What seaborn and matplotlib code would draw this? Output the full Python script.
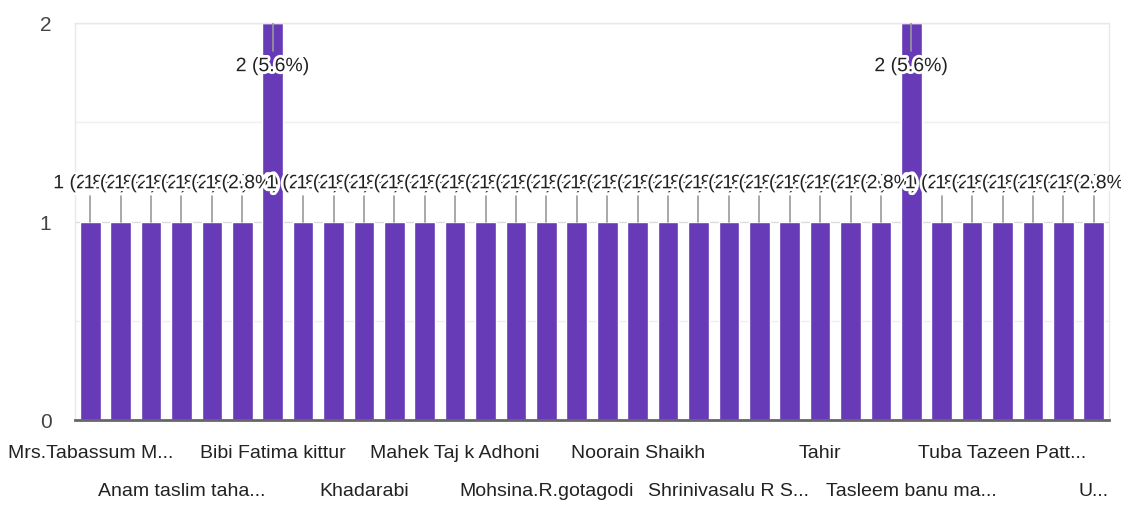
import matplotlib
matplotlib.use("Agg")
import matplotlib.pyplot as plt
import matplotlib.patheffects as pe
import pandas as pd
import seaborn as sns

# respondent names (sorted as in the form summary) and their counts
names = ["Mrs.Tabassum M...", "Aafreen Banu", "Afreen Kousar", "Anam taslim taha...",
         "Ayesha Siddiqa", "Bhagyashree", "Bibi Fatima kittur", "Fathima Begum",
         "Heena Kausar", "Khadarabi", "Kousar Banu", "Laxmi", "Mahek Taj k Adhoni",
         "Mehaboobi", "Mehtab", "Mohsina.R.gotagodi", "Muskan", "Nazia",
         "Noorain Shaikh", "Rukhsar", "Sana", "Shrinivasalu R S...", "Shabana",
         "Sumaiya", "Tahir", "Tanveer", "Tasleem", "Tasleem banu ma...", "Tayyaba",
         "Tehseen", "Tuba Tazeen Patt...", "Tuba Khanum", "Ujma", "U..."]
counts = [1, 1, 1, 1, 1, 1, 2, 1, 1, 1, 1, 1, 1, 1, 1, 1, 1, 1,
          1, 1, 1, 1, 1, 1, 1, 1, 1, 2, 1, 1, 1, 1, 1, 1]
shown_every = 3

total = sum(counts)
purple = "#673ab7"

sns.set_style("white")
plt.rcParams['font.family'] = ['Liberation Sans', 'DejaVu Sans']

fig = plt.figure(figsize=(11.21, 5.06), dpi=100)
ax = fig.add_axes([75 / 1121, 85 / 506, 1034 / 1121, 397 / 506])

df = pd.DataFrame({'name': names, 'count': counts})
sns.barplot(data=df, x='name', y='count', color=purple, saturation=1,
            width=0.68, ax=ax)

ax.set_xlim(-0.5, len(names) - 0.5)
ax.set_ylim(0, 2)
ax.set_xlabel("")
ax.set_ylabel("")

# grid
ax.set_yticks([0, 1, 2])
ax.set_yticks([0.5, 1.5], minor=True)
ax.yaxis.grid(True, which='major', color='#dcdcdc', lw=1)
ax.yaxis.grid(True, which='minor', color='#efefef', lw=1)
ax.set_axisbelow(True)
for s in ['left', 'right', 'top']:
    ax.spines[s].set_color('#e8e8e8')
    ax.spines[s].set_linewidth(1)
ax.spines['bottom'].set_color('#666666')
ax.spines['bottom'].set_linewidth(2)
ax.tick_params(axis='y', which='both', length=0, pad=17, labelsize=15, labelcolor='#444444')

# x labels: every third name, alternating on two rows
labels = []
for i, n in enumerate(names):
    if i % shown_every == 0:
        row = (i // shown_every) % 2
        labels.append(("\n" if row else "") + n)
    else:
        labels.append("")
ax.set_xticks(range(len(names)))
ax.set_xticklabels(labels, fontsize=14, color='#222222', linespacing=2.65)
ax.tick_params(axis='x', length=0, pad=17)

# annotations with stems
halo = [pe.withStroke(linewidth=4, foreground='white')]
for i, c in enumerate(counts):
    txt = f"{c} ({c / total * 100:.1f}%)"
    if c >= 2:
        ax.plot([i, i], [c, c - 0.14], color='#999999', lw=1.2, zorder=4)
        ax.text(i, c - 0.22, txt, ha='center', va='center', fontsize=14,
                color='#222222', path_effects=halo, zorder=5)
    else:
        ax.plot([i, i], [c, c + 0.13], color='#999999', lw=1.2, zorder=4)
        ax.text(i, c + 0.19, txt, ha='center', va='center', fontsize=14,
                color='#222222', path_effects=halo, zorder=5)

fig.savefig("out.png", dpi=100)
